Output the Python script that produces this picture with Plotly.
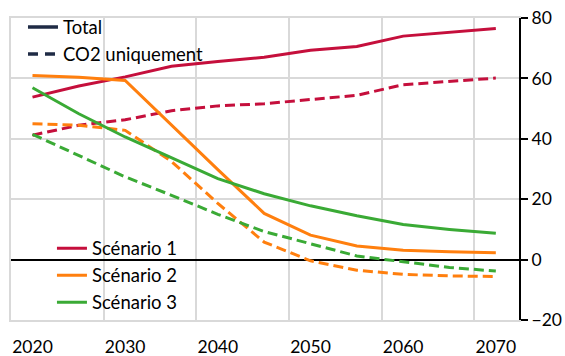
import plotly.graph_objects as go

years = [2020, 2025, 2030, 2035, 2040, 2045, 2050, 2055, 2060, 2065, 2070]

s1_total = [53.8, 57.5, 60.5, 64.0, 65.6, 67.0, 69.3, 70.6, 74.0, 75.3, 76.5]
s1_co2 = [41.2, 44.5, 46.3, 49.3, 50.9, 51.6, 53.0, 54.4, 57.9, 59.1, 60.1]
s2_total = [61.0, 60.4, 59.3, 44.5, 29.8, 15.3, 8.1, 4.5, 3.1, 2.6, 2.3]
s2_co2 = [45.0, 44.5, 42.8, 32.5, 18.6, 5.8, -0.4, -3.5, -4.9, -5.4, -5.6]
s3_total = [56.9, 48.3, 40.6, 33.8, 26.8, 21.8, 17.8, 14.5, 11.6, 10.0, 8.7]
s3_co2 = [41.5, 34.5, 27.4, 21.3, 15.0, 9.3, 5.2, 1.2, -0.7, -2.6, -3.8]

scenario_names = ["Scénario 1", "Scénario 2", "Scénario 3"]
colors = ["#C50F3C", "#FF7F0E", "#3AAA35"]
legend_names = ["Total", "CO2 uniquement"]
navy = "#1F2B45"

y_ticks = [-20, 0, 20, 40, 60, 80]
x_ticks = [2020, 2030, 2040, 2050, 2060, 2070]

FONT = "Lato"
GRID = "#D9D9D9"

# plot area in pixels
L, R, T, B = 11, 519.5, 17.5, 320
W, H = 565, 356


def px_x(p):
    return (p - L) / (R - L)


def px_y(p):
    return 1 - (p - T) / (B - T)


fig = go.Figure()

totals = [s1_total, s2_total, s3_total]
co2s = [s1_co2, s2_co2, s3_co2]

for name, col, tot, co2 in zip(scenario_names, colors, totals, co2s):
    fig.add_trace(go.Scatter(x=years, y=co2, mode="lines", name=name,
                             line=dict(color=col, width=3, dash="10px,5px"),
                             showlegend=False, hoverinfo="skip"))
for name, col, tot, co2 in zip(scenario_names, colors, totals, co2s):
    fig.add_trace(go.Scatter(x=years, y=tot, mode="lines", name=name,
                             line=dict(color=col, width=3),
                             legend="legend2"))

fig.add_trace(go.Scatter(x=[None], y=[None], mode="lines", name=legend_names[0],
                         line=dict(color=navy, width=3.5), legend="legend"))
fig.add_trace(go.Scatter(x=[None], y=[None], mode="lines", name=legend_names[1],
                         line=dict(color=navy, width=3.5, dash="10px,7px"), legend="legend"))

# invisible trace on the left axis so the grey left border is drawn
fig.add_trace(go.Scatter(x=[None], y=[None], yaxis="y2", showlegend=False))

fig.update_layout(
    width=W, height=H,
    margin=dict(l=L, r=W - R, t=T, b=H - B, autoexpand=False),
    plot_bgcolor="white", paper_bgcolor="white",
    font=dict(family=FONT, size=17, color="#000000"),
    legend=dict(x=px_x(23), y=px_y(8), xanchor="left", yanchor="top",
                bgcolor="rgba(0,0,0,0)",
                font=dict(family=FONT, size=18.5, color="#000000"),
                tracegroupgap=0),
    legend2=dict(x=px_x(52), y=px_y(229.5), xanchor="left", yanchor="top",
                 bgcolor="rgba(0,0,0,0)",
                 font=dict(family=FONT, size=18.5, color="#000000"),
                 tracegroupgap=0),
    showlegend=True,
    yaxis2=dict(overlaying="y", side="left", range=[-20, 80], showline=True,
                linecolor=GRID, linewidth=1.5, showgrid=False, zeroline=False,
                showticklabels=False, ticks=""),
)

fig.update_xaxes(
    range=[2017.68, 2072.5],
    tickvals=x_ticks, ticktext=[str(v) for v in x_ticks],
    showgrid=False, zeroline=False,
    showline=True, linecolor=GRID, linewidth=1.5, mirror=True,
    ticks="outside", ticklen=10, tickcolor="rgba(0,0,0,0)",
    tickfont=dict(family=FONT, size=17.5, color="#000000"),
    minor=dict(tick0=2017.68, dtick=10, showgrid=True, gridcolor=GRID,
               gridwidth=1.5, ticks=""),
)

fig.layout.yaxis.update(
    range=[-20, 80], side="right",
    tickvals=y_ticks,
    showgrid=True, gridcolor=GRID, gridwidth=1.5,
    zeroline=True, zerolinecolor="#000000", zerolinewidth=2,
    showline=True, linecolor="#000000", linewidth=2,
    ticks="outside", ticklen=7, tickwidth=2, tickcolor="#000000",
    tickfont=dict(family=FONT, size=17.5, color="#000000"),
)

fig.write_html("out.html",
               config={"displayModeBar": False},
               post_script="document.body.style.margin='0';"
                           "document.body.style.overflow='hidden';")
